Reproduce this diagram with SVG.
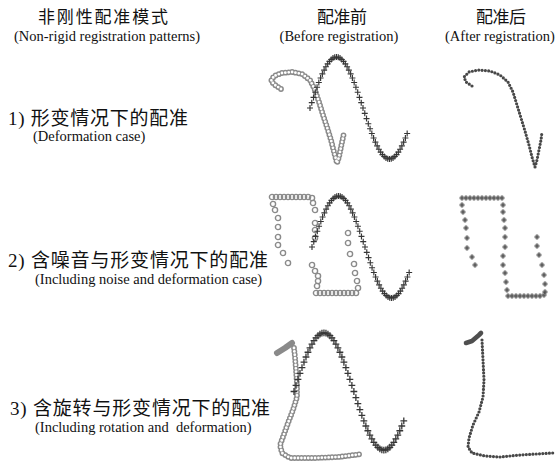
<svg xmlns="http://www.w3.org/2000/svg" xmlns:xlink="http://www.w3.org/1999/xlink" width="558" height="468" viewBox="0 0 558 468">
  <style>
    .zh { font-family: "Liberation Serif", "Noto Sans CJK SC", serif; fill: #111; }
    .en { font-family: "Liberation Serif", serif; font-size: 14.5px; fill: #111; white-space: pre; }
    .pts-plus { fill: none; stroke: none; marker-start: url(#plus); marker-mid: url(#plus); marker-end: url(#plus); }
    .pts-ring { fill: none; stroke: none; marker-start: url(#ring); marker-mid: url(#ring); marker-end: url(#ring); }
    .pts-both { fill: none; stroke: none; marker-start: url(#ringplus); marker-mid: url(#ringplus); marker-end: url(#ringplus); }
    .ring-o { fill: none; stroke: #8a8a8a; stroke-width: 5.8; stroke-linecap: round; stroke-linejoin: round; stroke-dasharray: 0 3.4; }
    .ring-i { fill: none; stroke: #fff; stroke-width: 2.8; stroke-linecap: round; stroke-linejoin: round; stroke-dasharray: 0 3.4; }
    .dots { fill: none; stroke: #484848; stroke-width: 3.2; stroke-linecap: round; stroke-linejoin: round; stroke-dasharray: 0 3.3; }
    .blob-g { fill: none; stroke: #8a8a8a; stroke-width: 6; stroke-linecap: round; stroke-linejoin: round; }
    .blob-d { fill: none; stroke: #4f4f4f; stroke-width: 4.6; stroke-linecap: round; stroke-linejoin: round; }
  </style>
  <defs>
    <marker id="plus" markerUnits="userSpaceOnUse" markerWidth="6" markerHeight="6" refX="3" refY="3" orient="0" overflow="visible">
      <path d="M0 3H6M3 0V6" stroke="#363636" stroke-width="1.15" fill="none"/>
    </marker>
    <marker id="ring" markerUnits="userSpaceOnUse" markerWidth="8" markerHeight="8" refX="4" refY="4" orient="0" overflow="visible">
      <circle cx="4" cy="4" r="2.6" fill="none" stroke="#8a8a8a" stroke-width="1.4"/>
    </marker>
    <marker id="ringplus" markerUnits="userSpaceOnUse" markerWidth="6" markerHeight="6" refX="3" refY="3" orient="0" overflow="visible">
      <circle cx="3" cy="3" r="2.2" fill="none" stroke="#9a9a9a" stroke-width="0.9"/>
      <path d="M0.8 3H5.2M3 0.8V5.2" stroke="#333" stroke-width="1.1" fill="none"/>
    </marker>
    <!-- one period (0..330 deg) of the sine, sampled every 6 degrees -->
    <path id="sine" class="pts-plus" d="M0 0L1.77 -5.33 3.53 -10.6 5.3 -15.76 7.07 -20.74 8.83 -25.5 10.6 -29.98 12.37 -34.12 14.13 -37.9 15.9 -41.26 17.67 -44.17 19.43 -46.59 21.2 -48.51 22.97 -49.88 24.73 -50.72 26.5 -51 28.27 -50.72 30.03 -49.88 31.8 -48.51 33.57 -46.59 35.33 -44.17 37.1 -41.26 38.87 -37.9 40.63 -34.12 42.4 -29.98 44.17 -25.5 45.93 -20.74 47.7 -15.76 49.47 -10.6 51.23 -5.33 53 0 54.77 5.33 56.53 10.6 58.3 15.76 60.07 20.74 61.83 25.5 63.6 29.98 65.37 34.12 67.13 37.9 68.9 41.26 70.67 44.17 72.43 46.59 74.2 48.51 75.97 49.88 77.73 50.72 79.5 51 81.27 50.72 83.03 49.88 84.8 48.51 86.57 46.59 88.33 44.17 90.1 41.26 91.87 37.9 93.63 34.12 95.4 29.98 97.17 25.5"/>
    <path id="c1" d="M281 89L275 85 271 81 274 76 282 73 292 72 302 74 310 80 315 90 319 102 323 115 327 127 331 140 334 152 337 163 339 157 341 147 344 133"/>
    <path id="c3" d="M294 348L295 357 296 370 297 385 297 397 293 410 288 423 283 437 280 445 282 453 290 458 315 458 338 457 362 454"/>
  </defs>

  <rect width="558" height="468" fill="#fff"/>

  <!-- column headings -->
  <g id="head-mode">
    <text class="zh" x="103" y="23" font-size="17" text-anchor="middle" textLength="130" lengthAdjust="spacing">非刚性配准模式</text>
    <text class="en" x="107" y="41" text-anchor="middle">(Non-rigid registration patterns)</text>
  </g>
  <g id="head-before">
    <text class="zh" x="342" y="23" font-size="17" text-anchor="middle" textLength="50" lengthAdjust="spacing">配准前</text>
    <text class="en" x="339" y="41" text-anchor="middle">(Before registration)</text>
  </g>
  <g id="head-after">
    <text class="zh" x="501" y="23" font-size="17" text-anchor="middle" textLength="50" lengthAdjust="spacing">配准后</text>
    <text class="en" x="500" y="41" text-anchor="middle">(After registration)</text>
  </g>

  <!-- row labels -->
  <g id="label-1">
    <text class="zh" x="8" y="125" font-size="19" textLength="180" lengthAdjust="spacing">1) 形变情况下的配准</text>
    <text class="en" x="33" y="141">(Deformation case)</text>
  </g>
  <g id="label-2">
    <text class="zh" x="8" y="267" font-size="19" textLength="260" lengthAdjust="spacing">2) 含噪音与形变情况下的配准</text>
    <text class="en" x="35" y="284">(Including noise and deformation case)</text>
  </g>
  <g id="label-3">
    <text class="zh" x="10" y="415" font-size="19" textLength="260" lengthAdjust="spacing">3) 含旋转与形变情况下的配准</text>
    <text class="en" x="35" y="432">(Including rotation and  deformation)</text>
  </g>

  <!-- row 1: deformation -->
  <g id="plot-1-before">
    <use xlink:href="#c1" href="#c1" class="ring-o"/>
    <use xlink:href="#c1" href="#c1" class="ring-i"/>
    <use xlink:href="#sine" href="#sine" transform="translate(310,108)"/>
  </g>
  <g id="plot-1-after">
    <path class="dots" d="M472 86L466 82 464 77 469 72 478 70 490 71 500 75 508 82 513 92 517 105 521 118 525 131 529 145 532 157 535 167 537 160 539 150 541 140 542 132"/>
  </g>

  <!-- row 2: noise and deformation -->
  <g id="plot-2-before">
    <path class="pts-ring" d="M272 197L276 197 280 197 284 197 288 197 292 197 296 197 300 197 304 197 308 197 312 198
      M273 204L275 210 278 218 278 227 278 237 278 245 283 253 288 263
      M313 203L315 210 315 223 315 230 315 238
      M312 265L315 271 318 276 318 281 317 286
      M316 293L320 293 324 293 328 293 332 293 336 293 340 293 344 293 348 293 352 293 356 293
      M348 233L348 243 350 254 354 264 355 273 357 281 358 288"/>
    <use xlink:href="#sine" href="#sine" transform="translate(312,247)"/>
  </g>
  <g id="plot-2-after">
    <path class="pts-both" d="M462 198L466 198 470 198 474 198 478 198 482 198 486 198 490 198 494 198 498 198 502 198
      M462 205L463 212 465 220 466 228 467 238 467 248 472 257 475 265
      M503 205L503 212 504 220 505 228 505 237 505 247 503 256 503 265 505 273 506 282 507 290
      M508 296L512 296 516 296 520 296 524 296 528 296 532 296 536 296 540 296 544 295
      M537 237L537 246 539 255 542 265 544 275 545 284 545 292"/>
  </g>

  <!-- row 3: rotation and deformation -->
  <g id="plot-3-before">
    <path class="blob-g" d="M277 353L285 348 292 343"/>
    <use xlink:href="#c3" href="#c3" class="ring-o"/>
    <use xlink:href="#c3" href="#c3" class="ring-i"/>
    <use xlink:href="#sine" href="#sine" transform="translate(294,391.5) scale(1.13,1.15)"/>
  </g>
  <g id="plot-3-after">
    <path class="blob-d" d="M466 343L472 341 479 335 481 333"/>
    <path class="dots" d="M482 340L483 360 484 380 483 397 479 412 473 425 469 438 468 447 472 453 485 456 500 457 520 455 553 453"/>
  </g>
</svg>
